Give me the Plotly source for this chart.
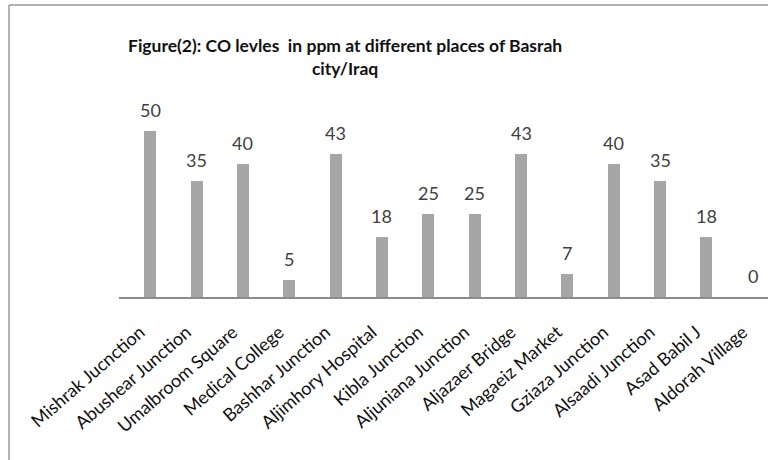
import plotly.graph_objects as go

places = ["Mishrak Jucnction", "Abushear Junction", "Umalbroom Square", "Medical College",
          "Bashhar Junction", "Aljimhory Hospital", "Kibla Junction", "Aljuniana Junction",
          "Aljazaer Bridge", "Magaeiz Market", "Gziaza Junction", "Alsaadi Junction",
          "Asad Babil J", "Aldorah Village"]
co_ppm = [50, 35, 40, 5, 43, 18, 25, 25, 43, 7, 40, 35, 18, 0]

title_text = "<b>Figure(2): CO levles  in ppm at different places of Basrah<br>city/Iraq</b>"

W, H = 779, 460
L, R, T, B = 119, 11, 80, 163
pw, ph = W - L - R, H - T - B
FONT = "Lato, Carlito, sans-serif"

fig = go.Figure()
fig.add_trace(go.Bar(
    x=list(range(len(places))), y=co_ppm, width=0.26,
    marker=dict(color="#A6A6A6", line=dict(width=0)),
    hoverinfo="x+y",
))

for i, v in enumerate(co_ppm):
    fig.add_annotation(x=i, y=v, text=str(v), showarrow=False, yanchor="bottom",
                       yshift=8, font=dict(family=FONT, size=18, color="#404040"))

off = 8 / (pw / len(places))
fig.update_xaxes(
    tickmode="array", tickvals=list(range(len(places))), ticktext=places,
    range=[-0.5 - off, len(places) - 0.5 - off],
    tickangle=-41, showline=True, linecolor="#8C8C8C", linewidth=1.5,
    ticks="", showgrid=False, zeroline=False, ticklabelstandoff=16, ticklabelshift=-10,
    tickfont=dict(family=FONT, size=18, color="#111111"),
)
fig.update_yaxes(range=[0, ph / 3.32], visible=False, showgrid=False)

fig.add_annotation(xref="paper", yref="paper", x=(345 - L) / pw, y=(H - B - 57) / ph,
                   text=title_text, showarrow=False, xanchor="center", yanchor="middle",
                   font=dict(family=FONT, size=17.5, color="#111111"))

# chart frame: top and left edges
fig.add_shape(type="line", xref="paper", yref="paper",
              x0=(9 - L) / pw, x1=(768 - L) / pw, y0=(H - B - 5) / ph, y1=(H - B - 5) / ph,
              line=dict(color="#9A9A9A", width=1.5), layer="below")
fig.add_shape(type="line", xref="paper", yref="paper",
              x0=(9 - L) / pw, x1=(9 - L) / pw, y0=(H - B - 5) / ph, y1=(H - B - 470) / ph,
              line=dict(color="#9A9A9A", width=1.5), layer="below")

fig.update_layout(
    width=W, height=H, margin=dict(l=L, r=R, t=T, b=B, autoexpand=False),
    plot_bgcolor="white", paper_bgcolor="white", showlegend=False, bargap=0,
)
fig.write_html("out.html", config={"displayModeBar": False},
               post_script="document.body.style.margin='0';document.body.style.overflow='hidden';")
